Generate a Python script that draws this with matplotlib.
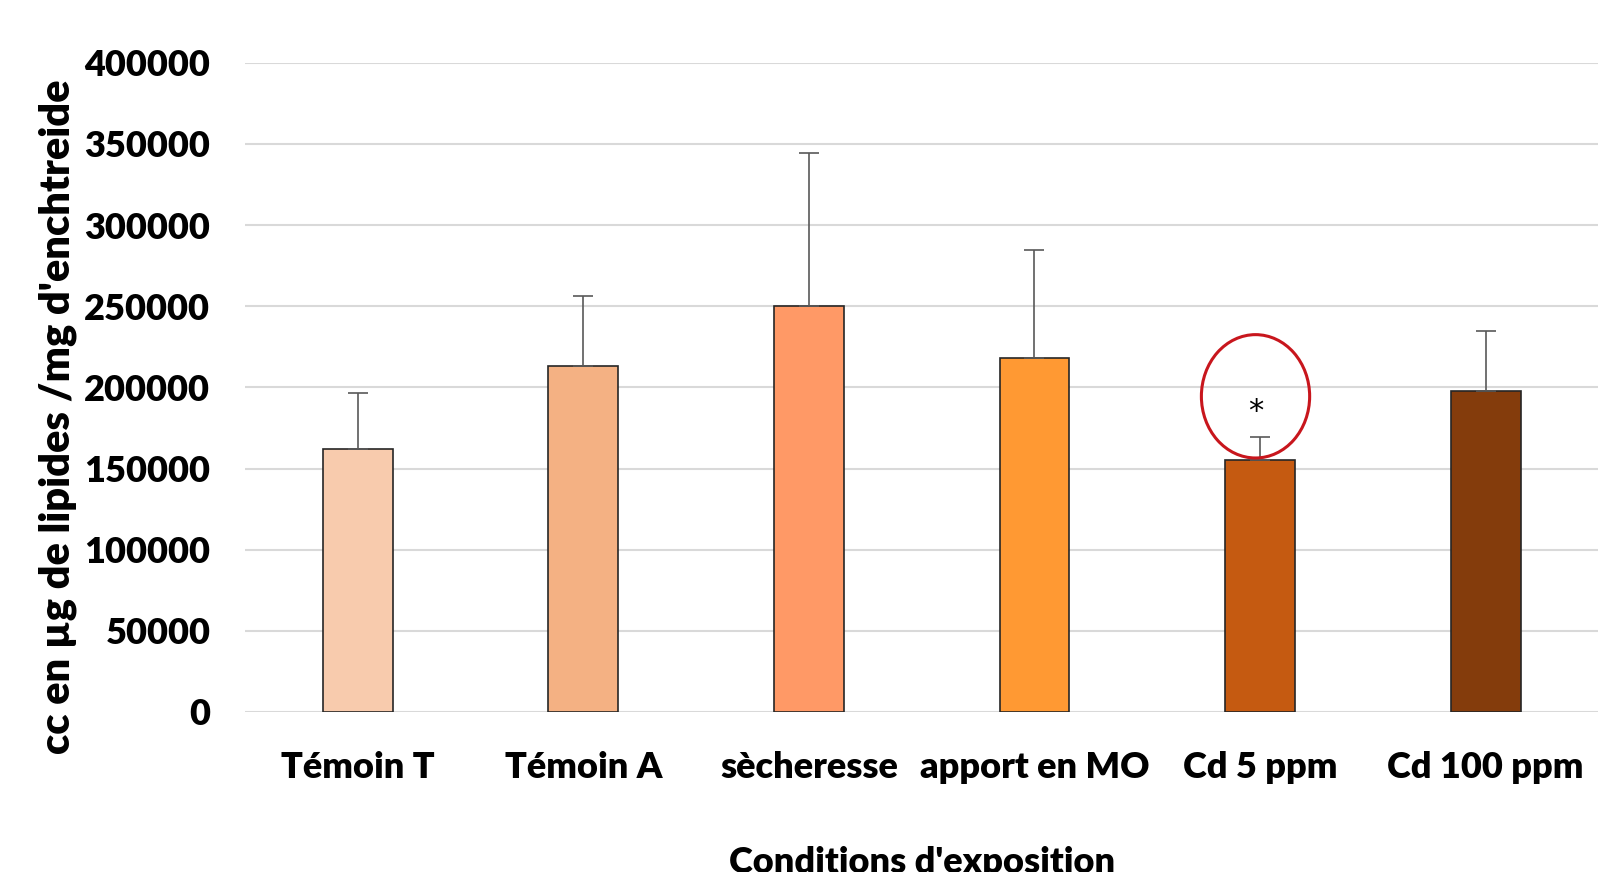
import matplotlib
matplotlib.use("Agg")
import matplotlib.pyplot as plt
from matplotlib.patches import Ellipse
import numpy as np

# data
conditions = ["Témoin T", "Témoin A", "sècheresse", "apport en MO", "Cd 5 ppm", "Cd 100 ppm"]
means = [162000, 213000, 250000, 218000, 155500, 198000]
errors = [34500, 43500, 94500, 66500, 14000, 37000]
colors = ["#F8CBAD", "#F4B183", "#FF9966", "#FF9933", "#C55A11", "#843C0C"]
yticks = [0, 50000, 100000, 150000, 200000, 250000, 300000, 350000, 400000]
marked = 4  # Cd 5 ppm, significant difference

plt.rcParams["font.family"] = ["Lato", "DejaVu Sans"]
plt.rcParams["font.weight"] = "heavy"
FS = 26

fig = plt.figure(figsize=(16.08, 8.72), dpi=100)
ax = fig.add_axes([0.1524, 0.1835, 0.8416, 0.7445])

x = np.arange(len(conditions))
ax.bar(x, means, width=0.31, color=colors, edgecolor="#262626", linewidth=1.2, zorder=3)
ax.errorbar(x, means, yerr=[np.zeros(len(errors)), errors], fmt="none",
            ecolor="#595959", elinewidth=1.2, capsize=7, capthick=1.2, zorder=4)

# significance mark
ax.text(x[marked] - 0.02, 185000, "*", ha="center", va="center", fontsize=22,
        fontweight="normal", family="DejaVu Sans", zorder=5)
ax.add_patch(Ellipse((x[marked] - 0.02, 194500), width=0.48, height=76000,
                     fill=False, edgecolor="#C8161D", linewidth=2.2, zorder=5))

ax.set_xlim(-0.5, len(conditions) - 0.5)
ax.set_ylim(0, 400000)
ax.set_yticks(yticks)
ax.set_yticklabels([str(v) for v in yticks])
ax.set_xticks(x)
ax.set_xticklabels(conditions)
ax.tick_params(axis="both", length=0, labelsize=FS)
ax.tick_params(axis="x", pad=28)
ax.tick_params(axis="y", pad=25)

ax.yaxis.grid(True, color="#D9D9D9", linewidth=1.5, zorder=0)
ax.set_axisbelow(True)
for s in ax.spines.values():
    s.set_visible(False)

ax.set_xlabel("Conditions d'exposition", fontsize=FS, fontweight="heavy", labelpad=45)
ax.set_ylabel("cc en µg de lipides /mg d'enchtreide", fontsize=30, fontweight="heavy", labelpad=5)
ax.yaxis.label.set_y(0.455)

fig.savefig("out.png", dpi=100)
